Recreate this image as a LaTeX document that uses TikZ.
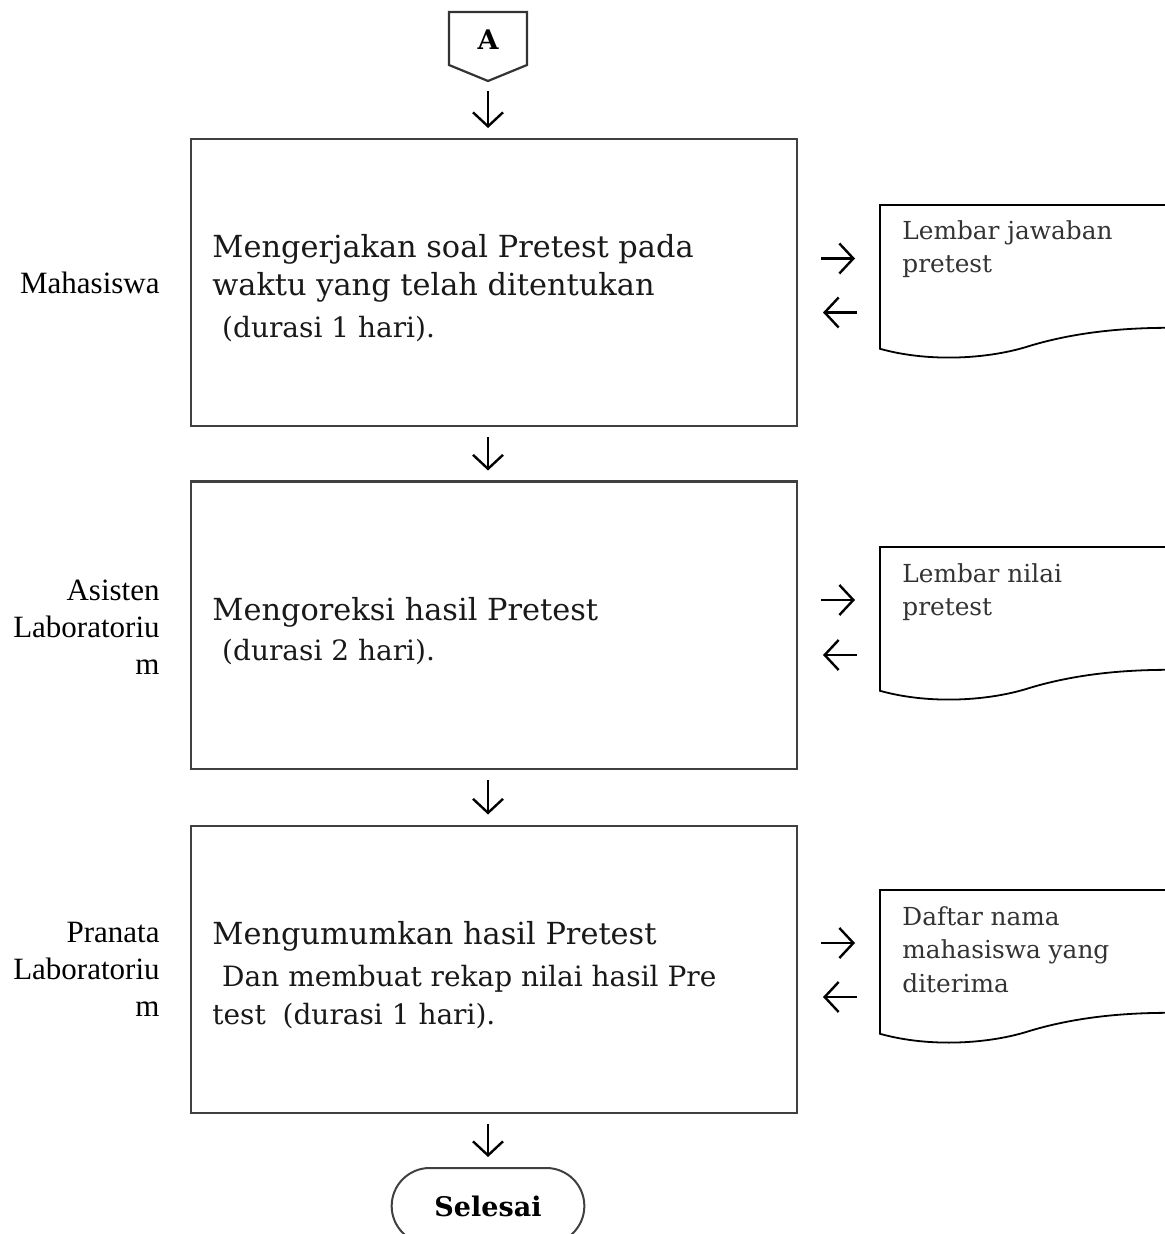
\documentclass[tikz,border=0pt]{standalone}
\usepackage{fontspec}
\setmainfont{DejaVu Serif}
\newfontfamily\lanefont{Liberation Serif}
\usetikzlibrary{arrows.meta,shapes.misc}

\newcommand{\durfont}{\fontsize{14}{17}\selectfont}

\tikzset{
  procbox/.style={draw=black!75,line width=1pt,minimum width=303pt,minimum height=143.5pt,inner sep=0pt},
  boxtext/.style={anchor=west,inner sep=0pt,align=left,text=black!90,font=\fontsize{15.2}{19}\selectfont},
  lanelabel/.style={anchor=east,align=right,inner sep=0pt,font=\lanefont\fontsize{15.5}{18.5}\selectfont},
  docbox/.style={anchor=north west,minimum width=145pt,minimum height=71.5pt,inner sep=0pt},
  doctext/.style={anchor=north west,align=left,inner sep=0pt,text=black!80,font=\fontsize{12.4}{16.8}\selectfont},
  docline/.style={draw=black,line width=0.9pt},
  flowarrow/.style={line width=1.2pt,-{Straight Barb[length=7pt,width=15pt]},shorten <=5pt,shorten >=5pt},
  sidearrow/.style={line width=1.2pt,-{Straight Barb[length=7pt,width=15pt]},shorten <=11.5pt,shorten >=12.5pt}
}

\begin{document}
\begin{tikzpicture}[x=0.5pt,y=-0.5pt]
  \useasboundingbox (0,0) rectangle (1164,1234);

  % off-page connector
  \draw[black!80,line width=1.1pt] (449,12) -- (527,12) -- (527,65) -- (488,81) -- (449,65) -- cycle;
  \node[font=\bfseries\fontsize{13.5}{15}\selectfont,inner sep=0pt] (conA) at (488,40) {A};
  \coordinate (conAtip) at (488,81);

  % process boxes
  \node[procbox] (box1) at (494,282.5) {};
  \node[procbox] (box2) at (494,625) {};
  \node[procbox] (box3) at (494,969) {};
  \node[boxtext] (box1text) at ([xshift=11pt,yshift=-3pt]box1.west) {Mengerjakan soal Pretest pada\\waktu yang telah ditentukan\\[2pt]{\durfont\hspace{0.35em}(durasi 1 hari).}};
  \node[boxtext] (box2text) at ([xshift=11pt,yshift=-3pt]box2.west) {Mengoreksi hasil Pretest\\[1pt]{\durfont\hspace{0.35em}(durasi 2 hari).}};
  \node[boxtext] (box3text) at ([xshift=11pt,yshift=-3pt]box3.west) {Mengumumkan hasil Pretest\\[2pt]{\durfont\hspace{0.35em}Dan membuat rekap nilai hasil Pre}\\{\durfont test\hspace{0.6em}(durasi 1 hari).}};

  % terminal
  \node[draw=black!75,line width=1pt,rounded rectangle,minimum width=103pt,minimum height=38pt,
    font=\bfseries\fontsize{13.5}{15}\selectfont] (sel) at (488,1206) {Selesai};

  % lanes
  \node[lanelabel] (lane1) at (160,283) {Mahasiswa};
  \node[lanelabel] (lane2) at (160,627) {Asisten\\Laboratoriu\\m};
  \node[lanelabel] (lane3) at (160,969) {Pranata\\Laboratoriu\\m};

  % documents
  \node[docbox] (docA) at (880,205) {};
  \node[docbox] (docB) at (880,547) {};
  \node[docbox] (docC) at (880,890) {};
  \node[doctext] (docAtext) at (902,220) {Lembar jawaban\\pretest};
  \node[doctext] (docBtext) at (902,563) {Lembar nilai\\pretest};
  \node[doctext] (docCtext) at (902,906) {Daftar nama\\mahasiswa yang\\diterima};
  \foreach \d in {docA,docB,docC}
    \draw[docline] (\d.north east) -- (\d.north west) -- (\d.south west)
      .. controls +(50,14) and +(-40,13) .. ++(150,-3)
      .. controls +(50,-15) and +(-40,0) .. ++(140,-18);

  % flow
  \draw[flowarrow] (conAtip) -- (box1.north -| conA);
  \draw[flowarrow] (box1.south -| conA) -- (box2.north -| conA);
  \draw[flowarrow] (box2.south -| conA) -- (box3.north -| conA);
  \draw[flowarrow] (box3.south -| conA) -- (sel.north);

  % document exchange
  \draw[sidearrow] ([yshift=12pt]box1.east) -- ([yshift=12pt]box1.east -| docA.west);
  \draw[sidearrow] ([yshift=-15pt]box1.east -| docA.west) -- ([yshift=-15pt]box1.east);
  \draw[sidearrow] ([yshift=12.5pt]box2.east) -- ([yshift=12.5pt]box2.east -| docB.west);
  \draw[sidearrow] ([yshift=-15pt]box2.east -| docB.west) -- ([yshift=-15pt]box2.east);
  \draw[sidearrow] ([yshift=13pt]box3.east) -- ([yshift=13pt]box3.east -| docC.west);
  \draw[sidearrow] ([yshift=-14pt]box3.east -| docC.west) -- ([yshift=-14pt]box3.east);
\end{tikzpicture}
\end{document}
